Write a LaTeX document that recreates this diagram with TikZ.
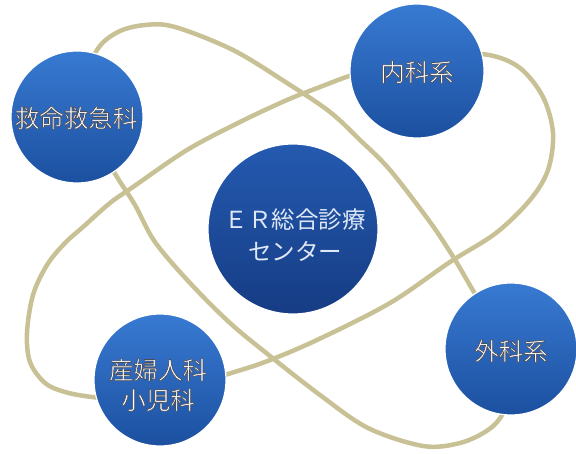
\documentclass[tikz,border=0pt]{standalone}
\usepackage{fontspec}
\newfontfamily\cjk{Noto Sans CJK JP}
\newfontfamily\cjkb{Noto Sans CJK JP}[FakeBold=2.6]
\definecolor{loopc}{RGB}{201,193,150}
\definecolor{ctop}{RGB}{56,122,210}
\definecolor{cbot}{RGB}{28,80,160}
\definecolor{etop}{RGB}{36,90,176}
\definecolor{ebot}{RGB}{22,60,132}
\definecolor{etext}{RGB}{222,232,246}
\newcommand{\olt}[1]{\special{pdf:literal direct 0.3 0.3 0.34 RG}#1}
\tikzset{
  loopline/.style={line width=4.5pt, draw=loopc, line join=round},
  dept/.style={circle, minimum size=132pt, inner sep=0pt, top color=ctop, bottom color=cbot,
    draw=white, line width=1.2pt},
  deptlabel/.style={inner sep=0pt, text=white, align=center,
    font=\cjkb\fontsize{24.5}{30}\selectfont},
  center/.style={circle, minimum size=170pt, inner sep=0pt, top color=etop, bottom color=ebot,
    draw=white, line width=1.2pt},
  centerlabel/.style={inner sep=0pt, text=etext, align=center,
    font=\cjk\fontsize{23.5}{32}\selectfont}
}
\begin{document}
\begin{tikzpicture}[x=1pt,y=-1pt]
\useasboundingbox (0,0) rectangle (576,454);
% loop A (upper-left to lower-right)
\draw[loopline] plot[smooth cycle, tension=0.55] coordinates {
 (97,50) (118,32) (145,25) (175,27) (233,50) (287,83) (330,112) (360,140) (390,170)
 (430,222) (452,255) (468,282) (495,330) (512,380) (503,413) (488,430) (460,443)
 (423,446) (368,428) (320,395) (270,356) (230,323) (190,283) (155,242) (135,205)
 (117,177) (92,135) (82,90)};
% loop B (lower-left to upper-right)
\draw[loopline] plot[smooth cycle, tension=0.55] coordinates {
 (352,75) (400,60) (445,54) (489,55) (520,68) (543,97) (553,133) (548,170) (530,200)
 (496,233) (450,262) (390,303) (317,340) (265,362) (225,375) (180,390) (130,400)
 (92,397) (65,392) (45,383) (30,362) (27,333) (33,295) (47,265) (65,243) (83,227)
 (110,203) (133,187) (187,150) (240,122) (287,100) (320,87)};
% circles
\node[center] (er) at (293,229) {};
\node[centerlabel] (ert) at (295,235) {ＥＲ総合診療\\センター};
\node[dept] (kyu) at (77,117) {};
\node[deptlabel] (kyut) at (76,118) {\olt{救命救急科}};
\node[dept, minimum size=134pt] (nai) at (417,71) {};
\node[deptlabel] (nait) at (417,72) {\olt{内科系}};
\node[dept] (ge) at (511,349) {};
\node[deptlabel] (get) at (511,351) {\olt{外科系}};
\node[dept] (san) at (160,380) {};
\node[deptlabel] (sant) at (158,385) {\olt{産婦人科}\\\olt{小児科}};
\end{tikzpicture}
\end{document}
